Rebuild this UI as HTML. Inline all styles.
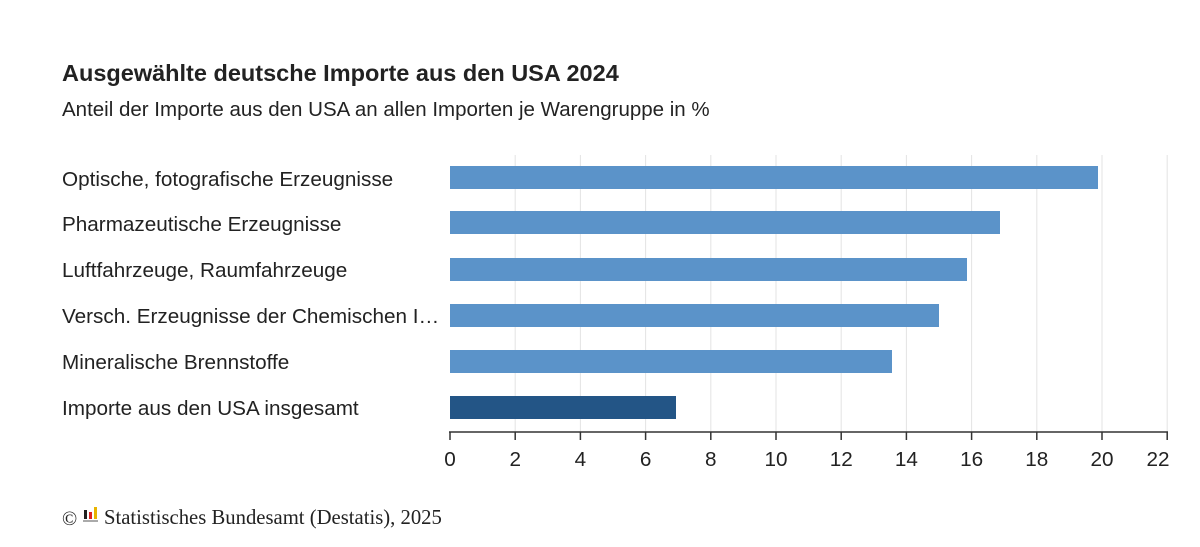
<!DOCTYPE html>
<html><head><meta charset="utf-8"><style>
body{margin:0;background:#fff;}
svg{display:block;font-family:"Liberation Sans",Arial,sans-serif;}
</style></head><body>
<svg width="1200" height="547" viewBox="0 0 1200 547" xmlns="http://www.w3.org/2000/svg">
<rect width="1200" height="547" fill="#fff"/>
<text x="62" y="81" font-size="23.5" font-weight="bold" fill="#222">Ausgewählte deutsche Importe aus den USA 2024</text>
<text x="62" y="116" font-size="20.5" fill="#222">Anteil der Importe aus den USA an allen Importen je Warengruppe in %</text>
<g stroke="#e3e3e3" stroke-width="1">
<line x1="515.2" y1="155" x2="515.2" y2="432"/><line x1="580.4" y1="155" x2="580.4" y2="432"/>
<line x1="645.6" y1="155" x2="645.6" y2="432"/><line x1="710.8" y1="155" x2="710.8" y2="432"/>
<line x1="776" y1="155" x2="776" y2="432"/><line x1="841.2" y1="155" x2="841.2" y2="432"/>
<line x1="906.4" y1="155" x2="906.4" y2="432"/><line x1="971.6" y1="155" x2="971.6" y2="432"/>
<line x1="1036.8" y1="155" x2="1036.8" y2="432"/><line x1="1102" y1="155" x2="1102" y2="432"/>
<line x1="1167.2" y1="155" x2="1167.2" y2="432"/>
</g>
<g fill="#5b93c9">
<rect x="450" y="166" width="648" height="23"/>
<rect x="450" y="211" width="550" height="23"/>
<rect x="450" y="258" width="517" height="23"/>
<rect x="450" y="304" width="489" height="23"/>
<rect x="450" y="350" width="442" height="23"/>
</g>
<rect x="450" y="396" width="226" height="23" fill="#235586"/>
<g font-size="20.7" fill="#222">
<text x="62" y="186">Optische, fotografische Erzeugnisse</text>
<text x="62" y="231">Pharmazeutische Erzeugnisse</text>
<text x="62" y="277">Luftfahrzeuge, Raumfahrzeuge</text>
<text x="62" y="323">Versch. Erzeugnisse der Chemischen I…</text>
<text x="62" y="369">Mineralische Brennstoffe</text>
<text x="62" y="415">Importe aus den USA insgesamt</text>
</g>
<line x1="449" y1="432" x2="1168" y2="432" stroke="#333" stroke-width="1.5"/>
<g stroke="#333" stroke-width="1.5">
<line x1="450" y1="432" x2="450" y2="440"/><line x1="515.2" y1="432" x2="515.2" y2="440"/>
<line x1="580.4" y1="432" x2="580.4" y2="440"/><line x1="645.6" y1="432" x2="645.6" y2="440"/>
<line x1="710.8" y1="432" x2="710.8" y2="440"/><line x1="776" y1="432" x2="776" y2="440"/>
<line x1="841.2" y1="432" x2="841.2" y2="440"/><line x1="906.4" y1="432" x2="906.4" y2="440"/>
<line x1="971.6" y1="432" x2="971.6" y2="440"/><line x1="1036.8" y1="432" x2="1036.8" y2="440"/>
<line x1="1102" y1="432" x2="1102" y2="440"/><line x1="1167.2" y1="432" x2="1167.2" y2="440"/>
</g>
<g font-size="20.7" fill="#222" text-anchor="middle">
<text x="450" y="466">0</text><text x="515.2" y="466">2</text><text x="580.4" y="466">4</text>
<text x="645.6" y="466">6</text><text x="710.8" y="466">8</text><text x="776" y="466">10</text>
<text x="841.2" y="466">12</text><text x="906.4" y="466">14</text><text x="971.6" y="466">16</text>
<text x="1036.8" y="466">18</text><text x="1102" y="466">20</text><text x="1158" y="466">22</text>
</g>
<text x="62" y="525" font-family="Liberation Serif,serif" font-size="20" fill="#222">©</text>
<rect x="84" y="510" width="3" height="9" fill="#222"/>
<rect x="89" y="512" width="3" height="7" fill="#d22"/>
<rect x="94" y="507" width="3" height="12" fill="#e8b400"/>
<rect x="83" y="520" width="15" height="2" fill="#aaa"/>
<text x="104" y="524" font-family="Liberation Serif,serif" font-size="20.7" fill="#222">Statistisches Bundesamt (Destatis), 2025</text>
</svg>
</body></html>
